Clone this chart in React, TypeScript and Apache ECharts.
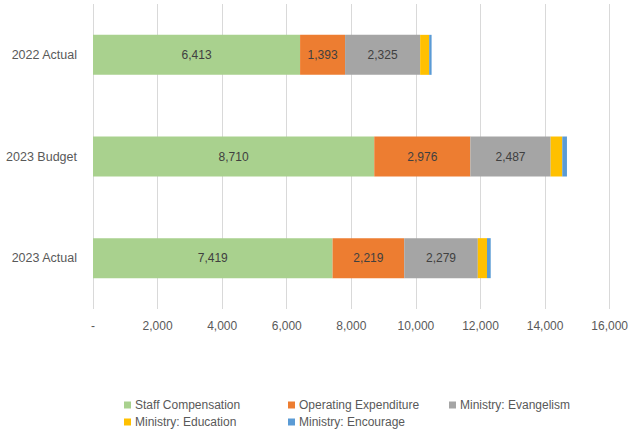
import React, { useEffect, useRef } from "react";
import * as echarts from "echarts";

const categories = ["2022 Actual", "2023 Budget", "2023 Actual"];
const seriesNames = [
  "Staff Compensation",
  "Operating Expenditure",
  "Ministry: Evangelism",
  "Ministry: Education",
  "Ministry: Encourage",
];
const staffCompensation = [6413, 8710, 7419];
const operatingExpenditure = [1393, 2976, 2219];
const ministryEvangelism = [2325, 2487, 2279];
const ministryEducation = [280, 360, 285];
const ministryEncourage = [75, 145, 115];
const colors = ["#a9d18e", "#ed7d31", "#a5a5a5", "#ffc000", "#5b9bd5"];
const showLabels = [true, true, true, false, false];

const FONT = "'Liberation Sans', Arial, sans-serif";
const fmt = (v: number) => (v === 0 ? "-" : v.toLocaleString("en-US"));

export default function App() {
  const ref = useRef<HTMLDivElement>(null);
  useEffect(() => {
    document.body.style.margin = "0";
    if (!ref.current) return;
    const chart = echarts.init(ref.current, null, { renderer: "svg" });
    const values = [
      staffCompensation,
      operatingExpenditure,
      ministryEvangelism,
      ministryEducation,
      ministryEncourage,
    ];
    const legendPos = [
      { left: 124, top: 399 },
      { left: 288, top: 399 },
      { left: 449, top: 399 },
      { left: 124, top: 416 },
      { left: 288, top: 416 },
    ];
    chart.setOption({
      animation: false,
      grid: { left: 93, right: 21, top: 4, bottom: 123, containLabel: false },
      xAxis: {
        type: "value",
        min: 0,
        max: 16000,
        interval: 2000,
        axisLine: { show: false },
        axisTick: { show: false },
        splitLine: { show: true, lineStyle: { color: "#d9d9d9", width: 1 } },
        axisLabel: {
          formatter: (v: number) => fmt(v),
          color: "#595959",
          fontSize: 12,
          fontFamily: FONT,
          margin: 11,
        },
      },
      yAxis: {
        type: "category",
        inverse: true,
        data: categories,
        axisLine: { show: false },
        axisTick: { show: false },
        axisLabel: {
          color: "#595959",
          fontSize: 12.5,
          fontFamily: FONT,
          margin: 16,
        },
      },
      legend: seriesNames.map((n, i) => ({
        data: [n],
        left: legendPos[i].left,
        top: legendPos[i].top,
        icon: "rect",
        itemWidth: 7,
        itemHeight: 7,
        itemGap: 0,
        padding: 0,
        textStyle: { color: "#595959", fontSize: 12, fontFamily: FONT, padding: [0, 0, 0, -1] },
      })),
      series: seriesNames.map((n, i) => ({
        name: n,
        type: "bar",
        stack: "total",
        barWidth: 40,
        data: values[i],
        itemStyle: { color: colors[i] },
        label: {
          show: showLabels[i],
          position: "inside",
          color: "#404040",
          fontSize: 12,
          fontFamily: FONT,
          formatter: (p: any) => fmt(p.value),
        },
      })),
    });
    return () => chart.dispose();
  }, []);
  return <div ref={ref} style={{ width: 631, height: 432 }} />;
}
